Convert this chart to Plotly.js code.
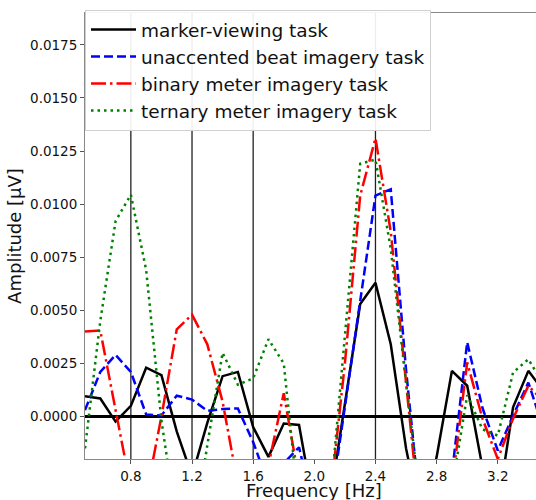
<!DOCTYPE html>
<html>
<head>
<meta charset="utf-8">
<script src="https://cdn.plot.ly/plotly-3.0.1.min.js"></script>
<style>
  html, body { margin: 0; padding: 0; background: #fff; }
  #chart { width: 536px; height: 500px; }
</style>
</head>
<body>
<div id="chart"></div>
<script>
// Frequencies (Hz)
const freqs = [0.5, 0.6, 0.7, 0.8, 0.9, 1.0, 1.1, 1.2, 1.3, 1.4, 1.5, 1.6, 1.7, 1.8, 1.9, 2.0,
               2.1, 2.2, 2.3, 2.4, 2.5, 2.6, 2.7, 2.8, 2.9, 3.0, 3.1, 3.2, 3.3, 3.4, 3.5];

// Amplitudes (µV) per task
const markerViewing = [0.00095, 0.00085, -0.00024, 0.0005, 0.0023, 0.00195, -0.0007, -0.0028, -0.0003, 0.0019, 0.0021, -0.0005, -0.0019, -0.00033, -0.0004, -0.0044,
                       -0.0041, 0.0005, 0.0053, 0.0063, 0.0034, -0.0015, -0.005, -0.0019, 0.00215, 0.00145, -0.0024, -0.0043, 0.00043, 0.00215, 0.0012];
const unaccentedBeat = [0.0003, 0.0021, 0.0029, 0.0021, 0.0001, 0.00005, 0.00098, 0.0008, 0.00027, 0.00035, 0.00038, -0.0012, -0.0032, -0.0022, -0.00145, -0.0045,
                        -0.0045, 0.0004, 0.0053, 0.0104, 0.0107, 0.0022, -0.0049, -0.006, -0.0027, 0.0035, 0.0004, -0.0016, 0.00004, 0.0016, -0.0006];
const binaryMeter = [0.004, 0.00405, 0.0003, -0.0034, -0.0037, 0.0, 0.0041, 0.0048, 0.0034, 0.0007, -0.0032, -0.004, -0.0023, 0.0011, -0.003, -0.005,
                     -0.0041, 0.0025, 0.0104, 0.0131, 0.0087, 0.0018, -0.0055, -0.006, -0.0033, 0.00255, -0.0001, -0.002, -0.0001, 0.00145, 0.0007];
const ternaryMeter = [-0.0015, 0.0045, 0.0092, 0.01045, 0.0069, -0.0002, -0.005, -0.006, -0.00135, 0.003, 0.0015, 0.0018, 0.00364, 0.0025, -0.0044, -0.006,
                      -0.0043, 0.0038, 0.0119, 0.0121, 0.0079, 0.0016, -0.0044, -0.006, -0.0034, 0.001, -0.0006, -0.0009, 0.00207, 0.0027, 0.0015];

const seriesNames = ["marker-viewing task", "unaccented beat imagery task", "binary meter imagery task", "ternary meter imagery task"];

// Reference frequencies marked by vertical lines
const markedFreqs = [0.8, 1.2, 1.6, 2.4];

// Tick labels and axis titles
const xTickVals = [0.8, 1.2, 1.6, 2.0, 2.4, 2.8, 3.2];
const xTickText = ["0.8", "1.2", "1.6", "2.0", "2.4", "2.8", "3.2"];
const yTickVals = [0.0, 0.0025, 0.005, 0.0075, 0.01, 0.0125, 0.015, 0.0175];
const yTickText = ["0.0000", "0.0025", "0.0050", "0.0075", "0.0100", "0.0125", "0.0150", "0.0175"];
const xTitle = "Frequency [Hz]";
const yTitle = "Amplitude [µV]";

const FONT = "DejaVu Sans, Liberation Sans, sans-serif";
const LW = 2.5;

const traces = [
  { x: freqs, y: markerViewing, name: seriesNames[0], mode: "lines",
    line: { color: "#000000", width: LW } },
  { x: freqs, y: unaccentedBeat, name: seriesNames[1], mode: "lines",
    line: { color: "#0000ff", width: LW, dash: "9px,4px" } },
  { x: freqs, y: binaryMeter, name: seriesNames[2], mode: "lines",
    line: { color: "#ff0000", width: LW, dash: "15px,4px,2.5px,4px" } },
  { x: freqs, y: ternaryMeter, name: seriesNames[3], mode: "lines",
    line: { color: "#008000", width: LW, dash: "2.5px,4px" } }
];

const shapes = markedFreqs.map(f => ({
  type: "line", xref: "x", yref: "paper", x0: f, x1: f, y0: 0, y1: 1,
  line: { color: "#222222", width: 1.3 }, layer: "below"
}));

const layout = {
  width: 536, height: 500,
  margin: { l: 85, r: 0, t: 13, b: 41, pad: 0 },
  paper_bgcolor: "#ffffff", plot_bgcolor: "#ffffff",
  font: { family: FONT, color: "#111111", size: 13 },
  showlegend: true,
  legend: {
    x: 0, y: 1.007, xanchor: "left", yanchor: "top",
    bgcolor: "rgba(255,255,255,0.92)", bordercolor: "#d0d0d0", borderwidth: 1,
    font: { family: FONT, size: 18.5, color: "#111111" },
    itemwidth: 45,
    tracegroupgap: 0
  },
  xaxis: {
    range: [0.5, 3.45], autorange: false,
    tickmode: "array", tickvals: xTickVals, ticktext: xTickText,
    ticks: "outside", ticklen: 4, tickwidth: 1, tickcolor: "#555",
    ticklabelstandoff: 1,
    showline: true, linecolor: "#888", linewidth: 1, mirror: true,
    showgrid: false, zeroline: false,
    tickfont: { family: FONT, size: 13.5, color: "#111" },
    automargin: false
  },
  yaxis: {
    range: [-0.002, 0.019], autorange: false,
    tickmode: "array", tickvals: yTickVals, ticktext: yTickText,
    ticks: "outside", ticklen: 4, tickwidth: 1, tickcolor: "#555",
    showline: true, linecolor: "#888", linewidth: 1, mirror: false,
    showgrid: false,
    zeroline: true, zerolinecolor: "#000000", zerolinewidth: 2.5,
    tickfont: { family: FONT, size: 13.5, color: "#111" },
    title: { text: yTitle, font: { family: FONT, size: 18, color: "#111" }, standoff: 3 },
    automargin: false
  },
  annotations: [{
    text: xTitle, xref: "paper", yref: "paper", x: 0.5, y: 0,
    xanchor: "center", yanchor: "top", xshift: 3, yshift: -19,
    showarrow: false, font: { family: FONT, size: 18, color: "#111" }
  }],
  shapes: shapes
};

Plotly.newPlot("chart", traces, layout, { displayModeBar: false, staticPlot: true });
</script>
</body>
</html>
